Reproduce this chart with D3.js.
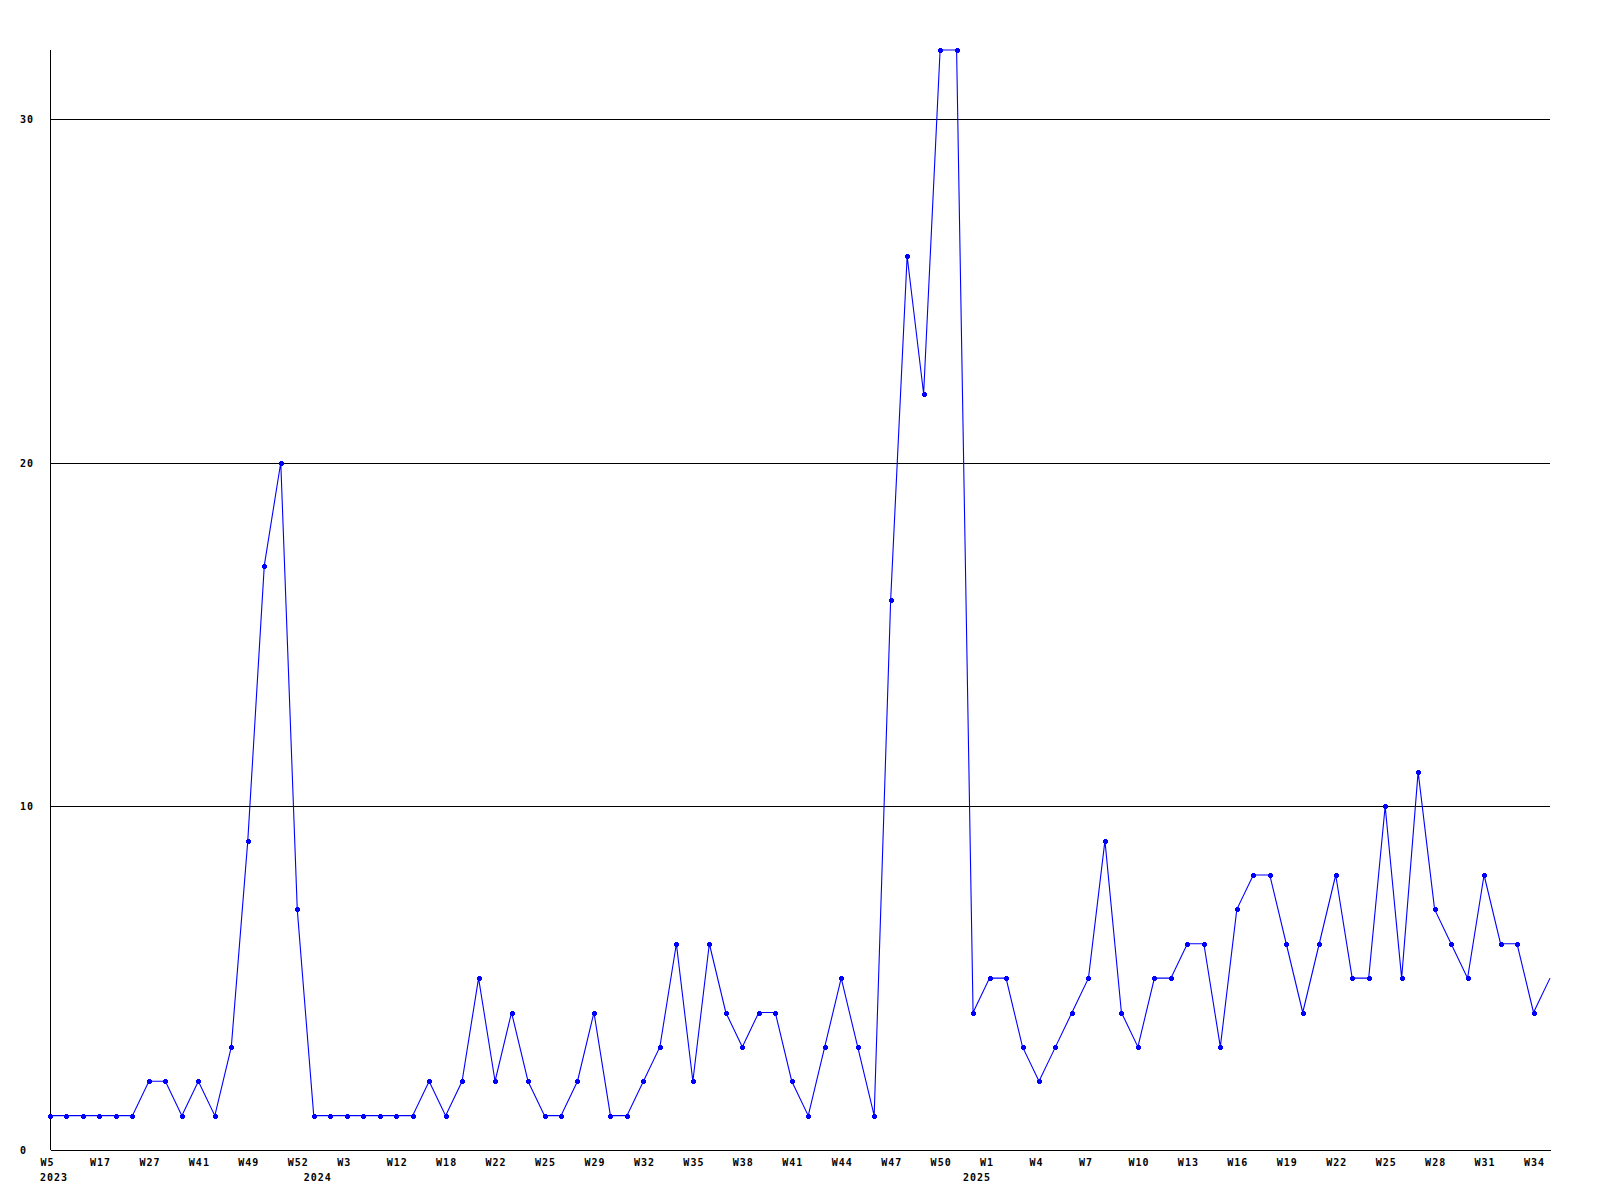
<!DOCTYPE html>
<html>
<head>
<meta charset="utf-8">
<script src="https://cdn.jsdelivr.net/npm/d3@7"></script>
<style>
  html, body { margin: 0; padding: 0; background: #fff; }
  svg { display: block; }
  text { font-family: "DejaVu Sans Mono", monospace; font-weight: bold; font-size: 10px; letter-spacing: 1px; fill: #000; }
</style>
</head>
<body>
<script>
// ---- data ----
const categories = [
  "2023-W5","2023-W9","2023-W13","2023-W17","2023-W20","2023-W24","2023-W27","2023-W30","2023-W36","2023-W41","2023-W43","2023-W47","2023-W49","2023-W50","2023-W51","2023-W52",
  "2024-W1","2024-W2","2024-W3","2024-W6","2024-W9","2024-W12","2024-W14","2024-W16","2024-W18","2024-W19","2024-W21","2024-W22","2024-W23","2024-W24","2024-W25","2024-W27","2024-W28","2024-W29","2024-W30","2024-W31",
  "2024-W32","2024-W33","2024-W34","2024-W35","2024-W36","2024-W37","2024-W38","2024-W39","2024-W40","2024-W41","2024-W42","2024-W43","2024-W44","2024-W45","2024-W46","2024-W47","2024-W48","2024-W49","2024-W50","2024-W51","2024-W52",
  "2025-W1","2025-W2","2025-W3","2025-W4","2025-W5","2025-W6","2025-W7","2025-W8","2025-W9","2025-W10","2025-W11","2025-W12","2025-W13","2025-W14","2025-W15","2025-W16","2025-W17","2025-W18","2025-W19","2025-W20",
  "2025-W21","2025-W22","2025-W23","2025-W24","2025-W25","2025-W26","2025-W27","2025-W28","2025-W29","2025-W30","2025-W31","2025-W32","2025-W33","2025-W34","2025-W35"
];
const values = [
  1,1,1,1,1,1,2,2,1,2,1,3,9,17,20,7,
  1,1,1,1,1,1,1,2,1,2,5,2,4,2,1,1,2,4,1,1,
  2,3,6,2,6,4,3,4,4,2,1,3,5,3,1,16,26,22,32,32,4,
  5,5,3,2,3,4,5,9,4,3,5,5,6,6,3,7,8,8,6,4,
  6,8,5,5,10,5,11,7,6,5,8,6,6,4,5
];
const xTickLabels = [
  "2023-W5","2023-W17","2023-W27","2023-W41","2023-W49","2023-W52","2024-W3","2024-W12","2024-W18","2024-W22","2024-W25",
  "2024-W29","2024-W32","2024-W35","2024-W38","2024-W41","2024-W44","2024-W47","2024-W50","2025-W1","2025-W4","2025-W7",
  "2025-W10","2025-W13","2025-W16","2025-W19","2025-W22","2025-W25","2025-W28","2025-W31","2025-W34"
];
const yearNames = ["2023", "2024", "2025"];
const yearAnchors = ["2023-W5", "2024-W1", "2024-W52"];
const yTickValues = [0, 10, 20, 30];
const yGridValues = [10, 20, 30];
const yMax = 32;

// ---- drawing ----
const W = 1600, H = 1200;
const svg = d3.select("body").append("svg").attr("width", W).attr("height", H);

const x = d3.scalePoint().domain(categories).range([50, 1550]).padding(0);
const y = d3.scaleLinear().domain([0, yMax]).range([1150, 50]);

const px = v => Math.round(v) + 0.5;

// gridlines
svg.append("g").selectAll("line").data(yGridValues).join("line")
  .attr("x1", 50).attr("x2", 1550)
  .attr("y1", d => px(y(d))).attr("y2", d => px(y(d)))
  .attr("stroke", "#000").attr("stroke-width", 1).attr("shape-rendering", "crispEdges");

// y axis line
svg.append("line")
  .attr("x1", px(50)).attr("x2", px(50)).attr("y1", y(yMax)).attr("y2", y(0))
  .attr("stroke", "#000").attr("shape-rendering", "crispEdges");

// x axis
const xAxis = d3.axisBottom(x)
  .tickValues(xTickLabels)
  .tickSize(0).tickSizeOuter(0).tickPadding(0)
  .tickFormat(d => d.split("-")[1]);
const gx = svg.append("g").attr("transform", `translate(0,${px(y(0)) - 0.5})`).call(xAxis);
gx.select(".domain").attr("stroke", "#000").attr("shape-rendering", "crispEdges");
gx.selectAll(".tick text")
  .attr("x", -10).attr("y", 16).attr("dy", 0)
  .attr("text-anchor", "start")
  .attr("font-family", null).attr("font-size", null)
  .attr("fill", "#000");

// year labels
svg.append("g").selectAll("text").data(yearNames).join("text")
  .attr("x", (d, i) => x(yearAnchors[i]) - 10)
  .attr("y", 1181)
  .attr("text-anchor", "start")
  .text(d => d);

// y labels
svg.append("g").selectAll("text").data(yTickValues).join("text")
  .attr("x", 20)
  .attr("y", d => y(d) + 4)
  .attr("text-anchor", "start")
  .text(d => d);

// data line
const data = categories.map((c, i) => ({ c, v: values[i] }));
svg.append("path").datum(data)
  .attr("fill", "none").attr("stroke", "#0000ff").attr("stroke-width", 1.1)
  .attr("d", d3.line().x(d => x(d.c)).y(d => y(d.v)));

// markers (last point has none)
const mk = svg.append("g").attr("fill", "#0000ff").attr("shape-rendering", "crispEdges");
const mdata = data.slice(0, data.length - 1);
mk.selectAll("rect.h").data(mdata).join("rect").attr("class", "h")
  .attr("x", d => Math.round(x(d.c)) - 2).attr("y", d => Math.round(y(d.v)) - 1)
  .attr("width", 5).attr("height", 3);
mk.selectAll("rect.v").data(mdata).join("rect").attr("class", "v")
  .attr("x", d => Math.round(x(d.c)) - 1).attr("y", d => Math.round(y(d.v)) - 2)
  .attr("width", 3).attr("height", 5);
</script>
</body>
</html>
